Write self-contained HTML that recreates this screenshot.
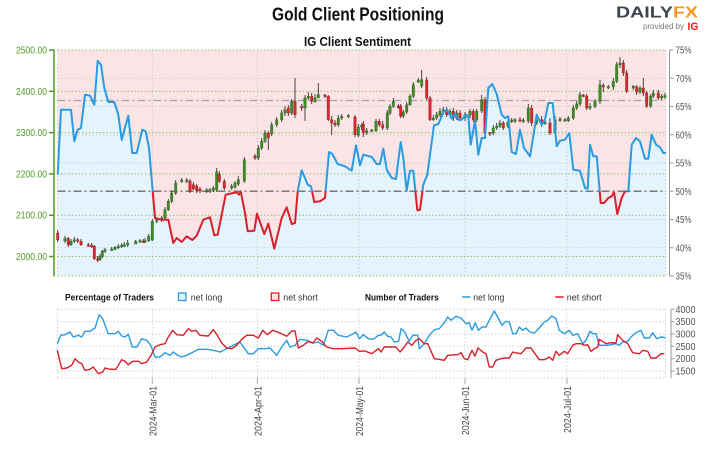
<!DOCTYPE html>
<html><head><meta charset="utf-8"><style>
html,body{margin:0;padding:0;background:#fff;width:716px;height:450px;overflow:hidden}
svg{display:block}
text{font-family:"Liberation Sans",sans-serif}
</style></head><body>
<svg width="716" height="450" viewBox="0 0 716 450" xmlns="http://www.w3.org/2000/svg">
<defs>
<clipPath id="plot"><rect x="57.5" y="50" width="608.5" height="226"/></clipPath>
<clipPath id="above"><rect x="50" y="40" width="630" height="151.3"/></clipPath>
<clipPath id="below"><rect x="50" y="191.3" width="630" height="100"/></clipPath>
</defs>
<!-- Titles -->
<text x="272" y="20.5" font-size="18" font-weight="bold" fill="#111" textLength="172" lengthAdjust="spacingAndGlyphs">Gold Client Positioning</text>
<text x="304" y="46" font-size="13" font-weight="bold" fill="#111" textLength="107" lengthAdjust="spacingAndGlyphs">IG Client Sentiment</text>
<!-- logo -->
<text x="616" y="17.5" font-size="15.5" font-weight="bold" textLength="82" lengthAdjust="spacingAndGlyphs"><tspan fill="#3d4452">DAILY</tspan><tspan fill="#f39a1e">FX</tspan></text>
<text x="643" y="29" font-size="8.5" fill="#777" textLength="41" lengthAdjust="spacingAndGlyphs">provided by</text>
<text x="687.5" y="30" font-size="11" font-weight="bold" fill="#e2231a" textLength="11" lengthAdjust="spacingAndGlyphs">IG</text>

<!-- main plot background -->
<rect x="57.5" y="50" width="608.5" height="226" fill="#fbe4e5"/>
<g clip-path="url(#plot)">
<polygon fill="#e5f3fc" points="57.7,174.7 61,109.7 71,109.7 74.3,141.3 77.7,129.7 81,128 85,94.7 90,95.7 94.3,104.7 97.7,60.7 101,64.7 104.3,88 108.3,102 114.3,102 118.3,114.7 121.7,139.7 128.3,115.7 132.3,153 136.7,153 142.3,129.7 145.7,131.3 149,148 155,218 161,219.7 168.3,219.7 173.3,243 176.7,238 181.7,242 186.7,236.3 192.3,240 196.7,235.7 203.3,219.7 210,217.3 214.3,235.3 217.7,234.7 225.7,194.7 233.3,193 236.7,192.3 239,194.7 240.7,191.3 245,213 247.7,231.3 254.3,230.7 257,213.7 264.3,234 268.3,223.7 274.3,248.7 281.7,218 286.7,207.3 291.7,224 295,223 297.7,191.3 301.7,170.3 307.7,184.7 311,186.3 314.3,202 320,201.3 325,198 329,152 332.3,154 337.7,164 345,166.3 351.7,170.7 356,145.3 360,165.3 363.3,154.7 371.7,157 376.7,164 380,164 383.3,148.7 386.7,169.7 391.7,178 396,179 400.7,142 403.3,158 406.7,190.7 410,170.7 413.3,170.7 417.3,210.3 420,210 423.3,184.7 427.3,174.7 434,125.3 438.3,124 444,111.3 447.3,110 451.7,118.7 455,113.3 458.3,119.7 461.7,119.7 466,114.7 468.3,116.3 470.7,144.7 475,120.7 478.3,154.7 481.7,138 485,138 488.3,88 492.3,84 496.7,94 501.7,114.7 505,118 508.3,116.3 511.7,152 516,154 520,129.7 524,148 530,156.3 533.3,136.3 536.7,114.7 541.7,124.7 545,119.7 548.3,103 552.7,103 556.7,146.3 560,140.7 565,139.7 569.3,133 573.3,169.7 580,170.7 585,188 587.7,188.7 590,144.7 593.3,156.3 596.7,156.3 600.7,203 604,203 608.3,198 611.7,196.3 614,192 617.3,214 621.7,198 625,191.3 628.3,191.3 631.7,144.7 636,138 640,141.3 645,158.7 648.3,158.7 651.7,134.7 656,144.7 660,147.3 663.3,153 666,153 666,276 57.7,276"/>
</g>
<!-- grid -->
<g stroke="#cfcfcf" stroke-width="1" stroke-dasharray="1.5,2" fill="none">
<path d="M57.5 78.25H666M57.5 106.5H666M57.5 134.75H666M57.5 163H666M57.5 219.5H666M57.5 247.75H666"/>
<path d="M57.5 50V276M152.3 50V276M257.3 50V276M359 50V276M465 50V276M567 50V276M666 50V276"/>
</g>
<g stroke="#8fc46a" stroke-width="1" stroke-dasharray="1.5,2" fill="none">
<path d="M57.5 50H666M57.5 91.3H666M57.5 132.6H666M57.5 173.9H666M57.5 215.2H666M57.5 256.5H666M57.5 276H666"/>
</g>
<path d="M57.5 100.5H666" stroke="#a5a5a5" stroke-width="1.2" stroke-dasharray="8,3,2,3" fill="none"/>
<path d="M57.5 191.3H666" stroke="#7a7a7a" stroke-width="1.5" stroke-dasharray="8,3,2,3" fill="none"/>

<!-- candles wicks -->
<path fill="none" stroke="#333" stroke-width="0.9" d="M57.7 230V242M65 236V243M68.3 237V247M71 239V246M74.3 237V243M77.7 238V243M81 239V246M88.3 243V247M91.7 243V248M94.3 245V260M97.7 256V262M100 254V261M102.3 250V258M105 248V253M111.7 247V251M115 246V250M118.3 244V249M121.7 243V248M124.3 242V247M127.7 240V247M135.7 240V244M140 239V243M143.3 239V243M145 238V243M148.7 234V242M152.3 219V241M156.7 218V223M161.7 216V222M165 207V220M168.3 199V211M171.7 191V203M175.7 180V195M181.7 178V183M186.7 178V183M190 179V193M193.3 182V190M196.7 184V193M200 187V193M206.7 188V193M210 188V193M213.3 186V192M216.7 168V192M219.3 171V183M224.3 179V190M231.7 184V190M235 181V189M238.3 176V186M244.3 157V183M255 154V160M258.3 145V160M261.7 138V150M265 130V143M268.3 131V150M271.7 122V136M276.7 117V127M281.7 110V122M285 106V116M288.3 105V116M291.7 99V115M295 78V118M301.7 104V111M305 95V121M308.3 92V100M311.7 93V104M315 94V103M318.3 83V97M325 94V98M328.3 95V121M331.7 116V135M335 120V127M338.3 115V127M341.7 114V120M348.3 114V118M355 115V137M358.3 124V137M361.7 123V130M363.3 121V137M366.7 128V135M371.7 129V132M376 119V132M379.3 119V127M382.7 121V130M387.3 110V130M390 104V115M393.3 98V108M398.3 104V109M400.7 104V118M403.3 110V118M406.7 102V114M410 94V106M413.3 82V98M418.3 78V83M421.7 70V88M426.7 77V100M430 96V121M433.3 115V121M436.7 112V120M440 108V117M443.3 107V113M446.7 107V117M450 109V117M453.3 108V121M456.7 110V120M460 110V121M465 112V121M470 109V118M473.3 109V122M476.7 109V122M481.7 95V113M485 97V135M490 132V136M493.3 125V135M496.7 123V130M500 120V128M503.3 121V130M508 119V128M511.7 118V123M515 118V123M520 117V122M523.3 118V123M528.3 104V123M531.7 105V126M536.7 116V125M541.7 116V127M545 119V125M550 118V135M555 116V135M560 117V122M565 118V122M568.3 116V122M573.3 105V120M576.7 101V110M580 92V106M583.3 94V97M586.7 94V110M590 103V110M595 99V108M600 80V104M603.3 83V92M608.3 85V89M613.3 78V90M616.7 62V83M620 57V68M623.3 60V76M626.7 70V93M633.3 85V90M636.7 85V95M640 86V94M643.3 78V96M646.7 91V108M650.7 94V108M653.3 90V98M658.3 90V100M661.7 94V100M665 93V99"/>
<!-- green bodies -->
<g fill="#3f8a24" stroke="#2b5c1a" stroke-width="0.4">
<rect x="63.8" y="238.5" width="2.4" height="2.5"/><rect x="69.8" y="241.3" width="2.4" height="3.4"/><rect x="73.1" y="239.7" width="2.4" height="1.6"/><rect x="98.8" y="256.3" width="2.4" height="3.4"/><rect x="101.1" y="251.3" width="2.4" height="5"/><rect x="103.8" y="249.7" width="2.4" height="1.6"/><rect x="110.5" y="249" width="2.4" height="1.5"/><rect x="113.8" y="247.3" width="2.4" height="2.4"/><rect x="117.1" y="246.3" width="2.4" height="1.5"/><rect x="120.5" y="245.3" width="2.4" height="1.5"/><rect x="123.1" y="244.7" width="2.4" height="1.5"/><rect x="126.5" y="243" width="2.4" height="2"/><rect x="134.5" y="241.3" width="2.4" height="2.7"/><rect x="138.8" y="240.5" width="2.4" height="1.5"/><rect x="143.8" y="240.7" width="2.4" height="1.5"/><rect x="147.5" y="236.3" width="2.4" height="4.4"/><rect x="151.1" y="221.3" width="2.4" height="18.7"/><rect x="155.5" y="219.7" width="2.4" height="1.6"/><rect x="160.5" y="218" width="2.4" height="1.7"/><rect x="163.8" y="209.7" width="2.4" height="8.3"/><rect x="167.1" y="201.3" width="2.4" height="8.4"/><rect x="170.5" y="193" width="2.4" height="8.3"/><rect x="174.5" y="183" width="2.4" height="10"/><rect x="180.5" y="180" width="2.4" height="1.5"/><rect x="185.5" y="180" width="2.4" height="1.5"/><rect x="205.5" y="190" width="2.4" height="1.5"/><rect x="208.8" y="189.7" width="2.4" height="1.6"/><rect x="212.1" y="188" width="2.4" height="2"/><rect x="215.5" y="172" width="2.4" height="18"/><rect x="230.5" y="186.3" width="2.4" height="1.7"/><rect x="233.8" y="183" width="2.4" height="4"/><rect x="237.1" y="179.7" width="2.4" height="4.3"/><rect x="243.1" y="159.7" width="2.4" height="21.3"/><rect x="257.1" y="148" width="2.4" height="10"/><rect x="260.5" y="141.3" width="2.4" height="6.7"/><rect x="263.8" y="133" width="2.4" height="8.3"/><rect x="270.5" y="124.7" width="2.4" height="9.3"/><rect x="275.5" y="119.7" width="2.4" height="5"/><rect x="280.5" y="113" width="2.4" height="6.7"/><rect x="283.8" y="109.7" width="2.4" height="3.3"/><rect x="290.5" y="101.3" width="2.4" height="11.7"/><rect x="303.8" y="98" width="2.4" height="10"/><rect x="307.1" y="96.3" width="2.4" height="1.7"/><rect x="313.8" y="98" width="2.4" height="3.3"/><rect x="317.1" y="94.7" width="2.4" height="3.3"/><rect x="337.1" y="118" width="2.4" height="6.7"/><rect x="340.5" y="116.3" width="2.4" height="1.7"/><rect x="347.1" y="115.5" width="2.4" height="1.5"/><rect x="357.1" y="127" width="2.4" height="8.3"/><rect x="360.5" y="125.3" width="2.4" height="1.7"/><rect x="365.5" y="130.7" width="2.4" height="2.3"/><rect x="370.5" y="130" width="2.4" height="1.5"/><rect x="374.8" y="121.3" width="2.4" height="9.4"/><rect x="386.1" y="113" width="2.4" height="15"/><rect x="388.8" y="106.3" width="2.4" height="6.7"/><rect x="392.1" y="101.3" width="2.4" height="5"/><rect x="402.1" y="112" width="2.4" height="4"/><rect x="405.5" y="104.7" width="2.4" height="7.3"/><rect x="408.8" y="96.3" width="2.4" height="8.4"/><rect x="412.1" y="84.7" width="2.4" height="11.6"/><rect x="417.1" y="80" width="2.4" height="2"/><rect x="420.5" y="79.7" width="2.4" height="6.3"/><rect x="432.1" y="118" width="2.4" height="1.7"/><rect x="435.5" y="114.7" width="2.4" height="3.3"/><rect x="438.8" y="111.3" width="2.4" height="3.7"/><rect x="442.1" y="109.7" width="2.4" height="1.6"/><rect x="448.8" y="111.3" width="2.4" height="3.4"/><rect x="455.5" y="113" width="2.4" height="5"/><rect x="463.8" y="114.7" width="2.4" height="3.3"/><rect x="468.8" y="111.3" width="2.4" height="3.7"/><rect x="475.5" y="111.3" width="2.4" height="8.4"/><rect x="480.5" y="99.7" width="2.4" height="11.3"/><rect x="492.1" y="128" width="2.4" height="5"/><rect x="495.5" y="126.3" width="2.4" height="1.7"/><rect x="498.8" y="123" width="2.4" height="3.3"/><rect x="506.8" y="122" width="2.4" height="4"/><rect x="510.5" y="120" width="2.4" height="1.5"/><rect x="513.8" y="119.7" width="2.4" height="1.5"/><rect x="522.1" y="120" width="2.4" height="1.5"/><rect x="527.1" y="108" width="2.4" height="13"/><rect x="535.5" y="119.7" width="2.4" height="3.3"/><rect x="543.8" y="122" width="2.4" height="1.5"/><rect x="553.8" y="119.7" width="2.4" height="13.3"/><rect x="558.8" y="119" width="2.4" height="1.5"/><rect x="563.8" y="119.5" width="2.4" height="1.5"/><rect x="567.1" y="118" width="2.4" height="2.7"/><rect x="572.1" y="108" width="2.4" height="10"/><rect x="575.5" y="104" width="2.4" height="4"/><rect x="578.8" y="94.7" width="2.4" height="9.3"/><rect x="588.8" y="106.3" width="2.4" height="1.7"/><rect x="593.8" y="101.3" width="2.4" height="5"/><rect x="598.8" y="84.7" width="2.4" height="16.6"/><rect x="607.1" y="86.5" width="2.4" height="1.5"/><rect x="612.1" y="81.3" width="2.4" height="5.7"/><rect x="615.5" y="64.7" width="2.4" height="16.6"/><rect x="618.8" y="63" width="2.4" height="1.7"/><rect x="632.1" y="86" width="2.4" height="2"/><rect x="638.8" y="88" width="2.4" height="4"/><rect x="649.5" y="96.3" width="2.4" height="9.7"/><rect x="652.1" y="93" width="2.4" height="3"/><rect x="660.5" y="96.3" width="2.4" height="1.7"/><rect x="663.8" y="95.5" width="2.4" height="1.5"/>
</g>
<!-- red bodies -->
<g fill="#d8262e" stroke="#9a1a20" stroke-width="0.4">
<rect x="56.5" y="233" width="2.4" height="6.7"/><rect x="67.1" y="238.5" width="2.4" height="6.2"/><rect x="76.5" y="239.7" width="2.4" height="1.6"/><rect x="79.8" y="241.3" width="2.4" height="3.4"/><rect x="87.1" y="244.7" width="2.4" height="1.5"/><rect x="90.5" y="245.3" width="2.4" height="1.5"/><rect x="93.1" y="246.3" width="2.4" height="12.4"/><rect x="96.5" y="258.7" width="2.4" height="1.5"/><rect x="142.1" y="241" width="2.4" height="1.5"/><rect x="188.8" y="181" width="2.4" height="10.3"/><rect x="192.1" y="184.7" width="2.4" height="4.3"/><rect x="195.5" y="186" width="2.4" height="4.7"/><rect x="198.8" y="189" width="2.4" height="1.7"/><rect x="218.1" y="174" width="2.4" height="7.3"/><rect x="223.1" y="181.3" width="2.4" height="6.7"/><rect x="253.8" y="156" width="2.4" height="2"/><rect x="267.1" y="133" width="2.4" height="5"/><rect x="287.1" y="108" width="2.4" height="5"/><rect x="293.8" y="101.3" width="2.4" height="13.4"/><rect x="300.5" y="106.5" width="2.4" height="1.5"/><rect x="310.5" y="96.3" width="2.4" height="5"/><rect x="323.8" y="95" width="2.4" height="1.5"/><rect x="327.1" y="96.3" width="2.4" height="23.4"/><rect x="330.5" y="119.7" width="2.4" height="3.3"/><rect x="333.8" y="123" width="2.4" height="1.7"/><rect x="353.8" y="117" width="2.4" height="17.7"/><rect x="362.1" y="124" width="2.4" height="9"/><rect x="378.1" y="121.3" width="2.4" height="3.4"/><rect x="381.5" y="124.7" width="2.4" height="3.3"/><rect x="397.1" y="106" width="2.4" height="1.5"/><rect x="399.5" y="106" width="2.4" height="10.3"/><rect x="425.5" y="80" width="2.4" height="18"/><rect x="428.8" y="98" width="2.4" height="21.7"/><rect x="445.5" y="109.7" width="2.4" height="5"/><rect x="452.1" y="111.3" width="2.4" height="6.7"/><rect x="458.8" y="113" width="2.4" height="5"/><rect x="472.1" y="111.3" width="2.4" height="8.4"/><rect x="483.8" y="99.7" width="2.4" height="33.3"/><rect x="488.8" y="132.5" width="2.4" height="1.5"/><rect x="502.1" y="123" width="2.4" height="5"/><rect x="518.8" y="119.7" width="2.4" height="1.5"/><rect x="530.5" y="108" width="2.4" height="15"/><rect x="540.5" y="119.7" width="2.4" height="4.3"/><rect x="548.8" y="123" width="2.4" height="10"/><rect x="582.1" y="95" width="2.4" height="1.5"/><rect x="585.5" y="96" width="2.4" height="12"/><rect x="602.1" y="85.5" width="2.4" height="1.5"/><rect x="622.1" y="63" width="2.4" height="10"/><rect x="625.5" y="73" width="2.4" height="18.3"/><rect x="635.5" y="87" width="2.4" height="5"/><rect x="642.1" y="88" width="2.4" height="5"/><rect x="645.5" y="93" width="2.4" height="13.3"/><rect x="657.1" y="93" width="2.4" height="5"/>
</g>

<!-- sentiment line -->
<g fill="none" stroke-width="2" stroke-linejoin="round">
<polyline id="sl" clip-path="url(#above)" stroke="#2a9be0" points="57.7,174.7 61,109.7 71,109.7 74.3,141.3 77.7,129.7 81,128 85,94.7 90,95.7 94.3,104.7 97.7,60.7 101,64.7 104.3,88 108.3,102 114.3,102 118.3,114.7 121.7,139.7 128.3,115.7 132.3,153 136.7,153 142.3,129.7 145.7,131.3 149,148 155,218 161,219.7 168.3,219.7 173.3,243 176.7,238 181.7,242 186.7,236.3 192.3,240 196.7,235.7 203.3,219.7 210,217.3 214.3,235.3 217.7,234.7 225.7,194.7 233.3,193 236.7,192.3 239,194.7 240.7,191.3 245,213 247.7,231.3 254.3,230.7 257,213.7 264.3,234 268.3,223.7 274.3,248.7 281.7,218 286.7,207.3 291.7,224 295,223 297.7,191.3 301.7,170.3 307.7,184.7 311,186.3 314.3,202 320,201.3 325,198 329,152 332.3,154 337.7,164 345,166.3 351.7,170.7 356,145.3 360,165.3 363.3,154.7 371.7,157 376.7,164 380,164 383.3,148.7 386.7,169.7 391.7,178 396,179 400.7,142 403.3,158 406.7,190.7 410,170.7 413.3,170.7 417.3,210.3 420,210 423.3,184.7 427.3,174.7 434,125.3 438.3,124 444,111.3 447.3,110 451.7,118.7 455,113.3 458.3,119.7 461.7,119.7 466,114.7 468.3,116.3 470.7,144.7 475,120.7 478.3,154.7 481.7,138 485,138 488.3,88 492.3,84 496.7,94 501.7,114.7 505,118 508.3,116.3 511.7,152 516,154 520,129.7 524,148 530,156.3 533.3,136.3 536.7,114.7 541.7,124.7 545,119.7 548.3,103 552.7,103 556.7,146.3 560,140.7 565,139.7 569.3,133 573.3,169.7 580,170.7 585,188 587.7,188.7 590,144.7 593.3,156.3 596.7,156.3 600.7,203 604,203 608.3,198 611.7,196.3 614,192 617.3,214 621.7,198 625,191.3 628.3,191.3 631.7,144.7 636,138 640,141.3 645,158.7 648.3,158.7 651.7,134.7 656,144.7 660,147.3 663.3,153 666,153"/>
<use href="#sl" clip-path="url(#below)" stroke="#d81f2b"/>
</g>
<polyline clip-path="url(#below)" fill="none" stroke="#d81f2b" stroke-width="2" stroke-linejoin="round" points="57.7,174.7 61,109.7 71,109.7 74.3,141.3 77.7,129.7 81,128 85,94.7 90,95.7 94.3,104.7 97.7,60.7 101,64.7 104.3,88 108.3,102 114.3,102 118.3,114.7 121.7,139.7 128.3,115.7 132.3,153 136.7,153 142.3,129.7 145.7,131.3 149,148 155,218 161,219.7 168.3,219.7 173.3,243 176.7,238 181.7,242 186.7,236.3 192.3,240 196.7,235.7 203.3,219.7 210,217.3 214.3,235.3 217.7,234.7 225.7,194.7 233.3,193 236.7,192.3 239,194.7 240.7,191.3 245,213 247.7,231.3 254.3,230.7 257,213.7 264.3,234 268.3,223.7 274.3,248.7 281.7,218 286.7,207.3 291.7,224 295,223 297.7,191.3 301.7,170.3 307.7,184.7 311,186.3 314.3,202 320,201.3 325,198 329,152 332.3,154 337.7,164 345,166.3 351.7,170.7 356,145.3 360,165.3 363.3,154.7 371.7,157 376.7,164 380,164 383.3,148.7 386.7,169.7 391.7,178 396,179 400.7,142 403.3,158 406.7,190.7 410,170.7 413.3,170.7 417.3,210.3 420,210 423.3,184.7 427.3,174.7 434,125.3 438.3,124 444,111.3 447.3,110 451.7,118.7 455,113.3 458.3,119.7 461.7,119.7 466,114.7 468.3,116.3 470.7,144.7 475,120.7 478.3,154.7 481.7,138 485,138 488.3,88 492.3,84 496.7,94 501.7,114.7 505,118 508.3,116.3 511.7,152 516,154 520,129.7 524,148 530,156.3 533.3,136.3 536.7,114.7 541.7,124.7 545,119.7 548.3,103 552.7,103 556.7,146.3 560,140.7 565,139.7 569.3,133 573.3,169.7 580,170.7 585,188 587.7,188.7 590,144.7 593.3,156.3 596.7,156.3 600.7,203 604,203 608.3,198 611.7,196.3 614,192 617.3,214 621.7,198 625,191.3 628.3,191.3 631.7,144.7 636,138 640,141.3 645,158.7 648.3,158.7 651.7,134.7 656,144.7 660,147.3 663.3,153 666,153"/>

<!-- left axis -->
<path d="M54 49.5V276.5M49 50H54M49 91.3H54M49 132.6H54M49 173.9H54M49 215.2H54M49 256.5H54" stroke="#4f9a27" stroke-width="1.5" fill="none"/>
<g font-size="10" fill="#4f9a27" text-anchor="end">
<text x="47" y="53.5" textLength="31" lengthAdjust="spacingAndGlyphs">2500.00</text>
<text x="47" y="94.8" textLength="31" lengthAdjust="spacingAndGlyphs">2400.00</text>
<text x="47" y="136.1" textLength="31" lengthAdjust="spacingAndGlyphs">2300.00</text>
<text x="47" y="177.4" textLength="31" lengthAdjust="spacingAndGlyphs">2200.00</text>
<text x="47" y="218.7" textLength="31" lengthAdjust="spacingAndGlyphs">2100.00</text>
<text x="47" y="260" textLength="31" lengthAdjust="spacingAndGlyphs">2000.00</text>
</g>
<!-- right axis -->
<path d="M669.5 50V276M669.5 50H673.5M669.5 78.25H673.5M669.5 106.5H673.5M669.5 134.75H673.5M669.5 163H673.5M669.5 191.25H673.5M669.5 219.5H673.5M669.5 247.75H673.5M669.5 276H673.5" stroke="#999" stroke-width="1" fill="none"/>
<g font-size="10" fill="#555">
<text x="675.5" y="53.5" textLength="16" lengthAdjust="spacingAndGlyphs">75%</text>
<text x="675.5" y="81.75" textLength="16" lengthAdjust="spacingAndGlyphs">70%</text>
<text x="675.5" y="110" textLength="16" lengthAdjust="spacingAndGlyphs">65%</text>
<text x="675.5" y="138.25" textLength="16" lengthAdjust="spacingAndGlyphs">60%</text>
<text x="675.5" y="166.5" textLength="16" lengthAdjust="spacingAndGlyphs">55%</text>
<text x="675.5" y="194.75" textLength="16" lengthAdjust="spacingAndGlyphs">50%</text>
<text x="675.5" y="223" textLength="16" lengthAdjust="spacingAndGlyphs">45%</text>
<text x="675.5" y="251.25" textLength="16" lengthAdjust="spacingAndGlyphs">40%</text>
<text x="675.5" y="279.5" textLength="16" lengthAdjust="spacingAndGlyphs">35%</text>
</g>

<!-- legend -->
<text x="65" y="300.5" font-size="9.5" font-weight="bold" fill="#111" textLength="89" lengthAdjust="spacingAndGlyphs">Percentage of Traders</text>
<rect x="178.5" y="293" width="7.5" height="7.5" fill="#e5f3fc" stroke="#2a9be0" stroke-width="1.3"/>
<text x="190.7" y="300.5" font-size="9.5" fill="#333" textLength="31.6" lengthAdjust="spacingAndGlyphs">net long</text>
<rect x="271.3" y="293" width="7.5" height="7.5" fill="#fbe4e5" stroke="#d81f2b" stroke-width="1.3"/>
<text x="283.3" y="300.5" font-size="9.5" fill="#333" textLength="34.4" lengthAdjust="spacingAndGlyphs">net short</text>
<text x="365" y="300.5" font-size="9.5" font-weight="bold" fill="#111" textLength="73.7" lengthAdjust="spacingAndGlyphs">Number of Traders</text>
<path d="M462 297H470.3" stroke="#2a9be0" stroke-width="1.5"/>
<text x="473.3" y="300.5" font-size="9.5" fill="#333" textLength="31" lengthAdjust="spacingAndGlyphs">net long</text>
<path d="M555.3 297H563.7" stroke="#d81f2b" stroke-width="1.5"/>
<text x="566.7" y="300.5" font-size="9.5" fill="#333" textLength="35" lengthAdjust="spacingAndGlyphs">net short</text>

<!-- bottom chart -->
<g stroke="#cfcfcf" stroke-width="1" stroke-dasharray="1.5,2" fill="none">
<path d="M57.3 309.3H665.7M57.3 321.7H665.7M57.3 334H665.7M57.3 346.3H665.7M57.3 358.7H665.7M57.3 371H665.7M57.3 378H665.7"/>
<path d="M57.3 309.3V378M152.3 309.3V378M257.3 309.3V378M359 309.3V378M465 309.3V378M567 309.3V378M665.7 309.3V378"/>
</g>
<polyline fill="none" stroke="#2a9be0" stroke-width="1.4" stroke-linejoin="round" points="57.3,343.7 60.7,335.3 65,334.7 70,332 73.3,337 78.3,335.3 81.7,337 85,331.3 90,331.3 95,328 99.3,314.7 102.7,318.7 108.3,333.7 115,333.7 118.3,331.3 121.7,336 125,337 128.3,334.3 132.3,347 136.7,347 141.7,338.7 146.7,340.3 150.7,345.3 155,357 160,357 165,352.7 170,355.3 173.3,352 176.7,354.7 181.7,357 186.7,355.3 193.3,352 198.3,349.3 206.7,349.3 213.3,350.3 220,352 226.7,348.7 233.3,345.3 240,342 248.3,353.7 253.3,353.7 258.3,348.7 265,348.7 270,348 276.7,355.3 281.7,347 286.7,340.3 290,347 295,345.3 300,339.3 306.7,340.3 313.3,343 318.3,342 323.3,345.3 328.3,330.3 333.3,330.3 338.3,335.3 346.7,337 353.3,333.7 356,332 359.3,338.7 363.3,334.7 368.3,338.7 373.3,339.3 378.3,335.3 381,335.3 384.3,332 387.7,336.3 391,337 394.3,342 398.7,341.3 401,328.7 404.3,331.3 409.3,341.3 412.7,335.3 417.7,335.3 419.3,348.7 424.3,343.7 429.3,335.3 434.3,329.7 439.3,328.7 444.3,322.7 447.7,317 451,320.3 456,316.3 461,318 466,323.7 469.3,322.7 472,330.3 475.3,322.7 478.3,330.3 482,327 486,327 489.3,320.3 494.3,311 497.7,317 502,325.3 506,321.3 509.3,322 512.7,333.7 516,333.7 519.3,327 522.7,330.3 526,328 530,332 534.3,333 539.3,328 544.3,322 547.7,320.3 551.7,316 556,318.7 559.3,330.3 564.3,333.7 569.3,330.3 572.7,335.3 577.7,333.7 582.7,343.7 586,340.3 590,331.3 592.7,333.7 596,333.7 599.3,345.3 606,345.3 611,344.7 616,343.7 619.3,345.3 622.7,342 627.7,341.3 631,337 636,332.7 641,330.3 644.3,338 649.3,338 652.7,332.7 656.7,338.7 661,337 665.3,337.7"/>
<polyline fill="none" stroke="#d81f2b" stroke-width="1.4" stroke-linejoin="round" points="57.3,350.3 61.7,368.7 66.7,368 71.7,365.3 75,358.7 78.3,362 81.7,363.7 85,370.3 90,369.3 93.3,367 98.3,373.7 102.7,372 105,368 110,369.3 116,369.3 121.7,359.7 125,361.3 128.3,364.7 132.7,361.3 138.3,361.3 141.7,363.7 146.7,362 150.7,356 155,347 160,344.7 165,343.7 168.3,337 172.7,330.3 176.7,334.7 183.3,335.3 188.3,328.7 191.7,331.3 196,330.3 200,335.3 208.3,336 213.3,329.7 217.3,335.3 221.7,343 226.7,348 231.7,348.7 236.7,345.3 241.7,339.3 246.7,335.3 253.3,335.3 258.3,338 262.7,330.3 267.3,334.7 272.7,330.3 277.3,332 281.7,333.7 286.7,336.3 291.7,331 295,331 298.3,348 303.3,345.3 308.3,341.3 312.7,343 316.7,338 321.7,341.3 326.7,347 333.3,348.7 341.7,348.7 355,348 359.3,351.3 365,351 371.7,353.7 378.3,348.7 381,352 384.3,347 391,347 396,347 400,352 404.3,347 407.7,342 412,345.3 416,340.3 419.3,338.7 424.3,343.7 427.7,343.7 434.3,358.7 441,359.7 444.3,360.3 447.7,355.3 457.7,354.7 461,352.7 464.3,358.7 467.7,359.7 472,350.3 475,356 478,348 482.7,352 486,353.7 489.3,367 492.7,367 496,360.3 501,358.7 506,358 509.3,358 512.7,352 516,353 521,353.7 526,348 531,348 534.3,352.7 539.3,359.7 544.3,359.7 549.3,357 552.7,360.3 556,351.3 559.3,355.3 564.3,351.3 567.7,353.7 572.7,345.3 576,343.7 581,343.7 584.3,345.3 587.7,344.7 591,351.3 594.3,348.7 597.7,347 599.3,339.3 606,343.7 611,342.7 616,343 617.7,334.7 622.7,340.3 627.7,343.7 632.7,352.7 639.3,353.7 642.7,350.3 647.7,351.3 651,358 656,358 661,353.7 664.3,353.7"/>
<path d="M671 309V378M671 309.3H674.5M671 321.7H674.5M671 334H674.5M671 346.3H674.5M671 358.7H674.5M671 371H674.5" stroke="#999" stroke-width="1" fill="none"/>
<g font-size="10" fill="#555">
<text x="675.5" y="312.8" textLength="20" lengthAdjust="spacingAndGlyphs">4000</text>
<text x="675.5" y="325.2" textLength="20" lengthAdjust="spacingAndGlyphs">3500</text>
<text x="675.5" y="337.5" textLength="20" lengthAdjust="spacingAndGlyphs">3000</text>
<text x="675.5" y="349.8" textLength="20" lengthAdjust="spacingAndGlyphs">2500</text>
<text x="675.5" y="362.2" textLength="20" lengthAdjust="spacingAndGlyphs">2000</text>
<text x="675.5" y="374.5" textLength="20" lengthAdjust="spacingAndGlyphs">1500</text>
</g>

<!-- x ticks & labels -->
<path d="M152.3 378V384M257.3 378V384M359 378V384M465 378V384M567 378V384" stroke="#aaa" stroke-width="1"/>
<g font-size="9.8" fill="#444" text-anchor="end">
<text transform="translate(156.3,386) rotate(-90)" textLength="50" lengthAdjust="spacingAndGlyphs">2024-Mar-01</text>
<text transform="translate(261.3,386) rotate(-90)" textLength="50" lengthAdjust="spacingAndGlyphs">2024-Apr-01</text>
<text transform="translate(363,386) rotate(-90)" textLength="50" lengthAdjust="spacingAndGlyphs">2024-May-01</text>
<text transform="translate(469,386) rotate(-90)" textLength="49" lengthAdjust="spacingAndGlyphs">2024-Jun-01</text>
<text transform="translate(571,386) rotate(-90)" textLength="47" lengthAdjust="spacingAndGlyphs">2024-Jul-01</text>
</g>
</svg>
</body></html>
